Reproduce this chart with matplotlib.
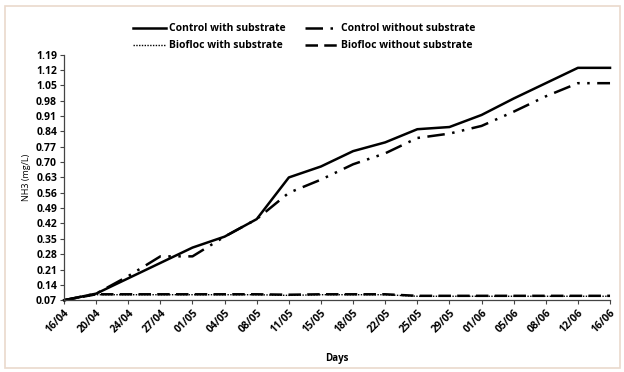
import matplotlib.pyplot as plt
from matplotlib.patches import Rectangle

days = ['16/04', '20/04', '24/04', '27/04', '01/05', '04/05', '08/05', '11/05', '15/05',
        '18/05', '22/05', '25/05', '29/05', '01/06', '05/06', '08/06', '12/06', '16/06']

control_with = [0.07, 0.10, 0.17, 0.24, 0.31, 0.36, 0.44, 0.63, 0.68,
                0.75, 0.79, 0.85, 0.86, 0.915, 0.99, 1.06, 1.13, 1.13]
control_without = [0.07, 0.10, 0.18, 0.27, 0.27, 0.36, 0.44, 0.56, 0.62,
                   0.69, 0.74, 0.81, 0.83, 0.865, 0.93, 1.00, 1.06, 1.06]
biofloc_with = [0.07, 0.095, 0.095, 0.095, 0.095, 0.095, 0.095, 0.092, 0.095,
                0.095, 0.095, 0.088, 0.088, 0.088, 0.088, 0.088, 0.088, 0.088]
biofloc_without = [0.07, 0.097, 0.097, 0.097, 0.097, 0.097, 0.097, 0.095, 0.097,
                   0.097, 0.097, 0.09, 0.09, 0.09, 0.09, 0.09, 0.09, 0.09]

yticks = [0.07, 0.14, 0.21, 0.28, 0.35, 0.42, 0.49, 0.56, 0.63, 0.70,
          0.77, 0.84, 0.91, 0.98, 1.05, 1.12, 1.19]

plt.rcParams['font.family'] = ['Open Sans', 'DejaVu Sans']

fig = plt.figure(figsize=(6.24, 3.72), dpi=100)
fig.patches.append(Rectangle((0.008, 0.01), 0.985, 0.975, transform=fig.transFigure,
                             fill=False, edgecolor='#ead9cc', linewidth=1.2))
ax = fig.add_axes([0.1026, 0.193, 0.875, 0.66])

x = list(range(len(days)))
lw = 1.8
l1, = ax.plot(x, control_with, color='black', lw=lw, linestyle='-',
              label='Control with substrate', clip_on=False)
l2, = ax.plot(x, control_without, color='black', lw=lw, linestyle=(0, (7, 3, 1, 3, 1, 3)),
              label='Control without substrate', clip_on=False)
l3, = ax.plot(x, biofloc_with, color='black', lw=1.0, linestyle=(0, (1, 1)),
              label='Biofloc with substrate', clip_on=False)
l4, = ax.plot(x, biofloc_without, color='black', lw=lw, linestyle=(0, (5, 2.5)),
              label='Biofloc without substrate', clip_on=False)

ax.set_xlim(0, len(days) - 1)
ax.set_ylim(0.07, 1.19)
ax.set_yticks(yticks)
ax.set_yticklabels(['%.2f' % v for v in yticks], fontsize=7.5, fontweight='bold')
ax.set_xticks(x)
ax.set_xticklabels(days, fontsize=7.5, fontweight='bold', rotation=45,
                   ha='right', rotation_mode='anchor')
ax.tick_params(axis='both', direction='out', length=3, width=0.8, colors='#444444',
               labelcolor='black', pad=2)
for s in ['top', 'right']:
    ax.spines[s].set_visible(False)
for s in ['left', 'bottom']:
    ax.spines[s].set_color('#444444')
    ax.spines[s].set_linewidth(0.9)

ax.set_xlabel('Days', fontsize=7, fontweight='bold', labelpad=13)
ax.set_ylabel('NH3 (mg/L)', fontsize=6.5, labelpad=4)

# column-major fill: order so rows read Control / Biofloc
ax.legend([l1, l3, l2, l4], [l1.get_label(), l3.get_label(), l2.get_label(), l4.get_label()],
          loc='lower center', bbox_to_anchor=(0.44, 0.975), ncol=2, frameon=False,
          prop={'size': 7.5, 'weight': 'bold'}, handlelength=3.2, columnspacing=1.8,
          handletextpad=0.3, labelspacing=0.6)

plt.savefig('out.png', dpi=100)
